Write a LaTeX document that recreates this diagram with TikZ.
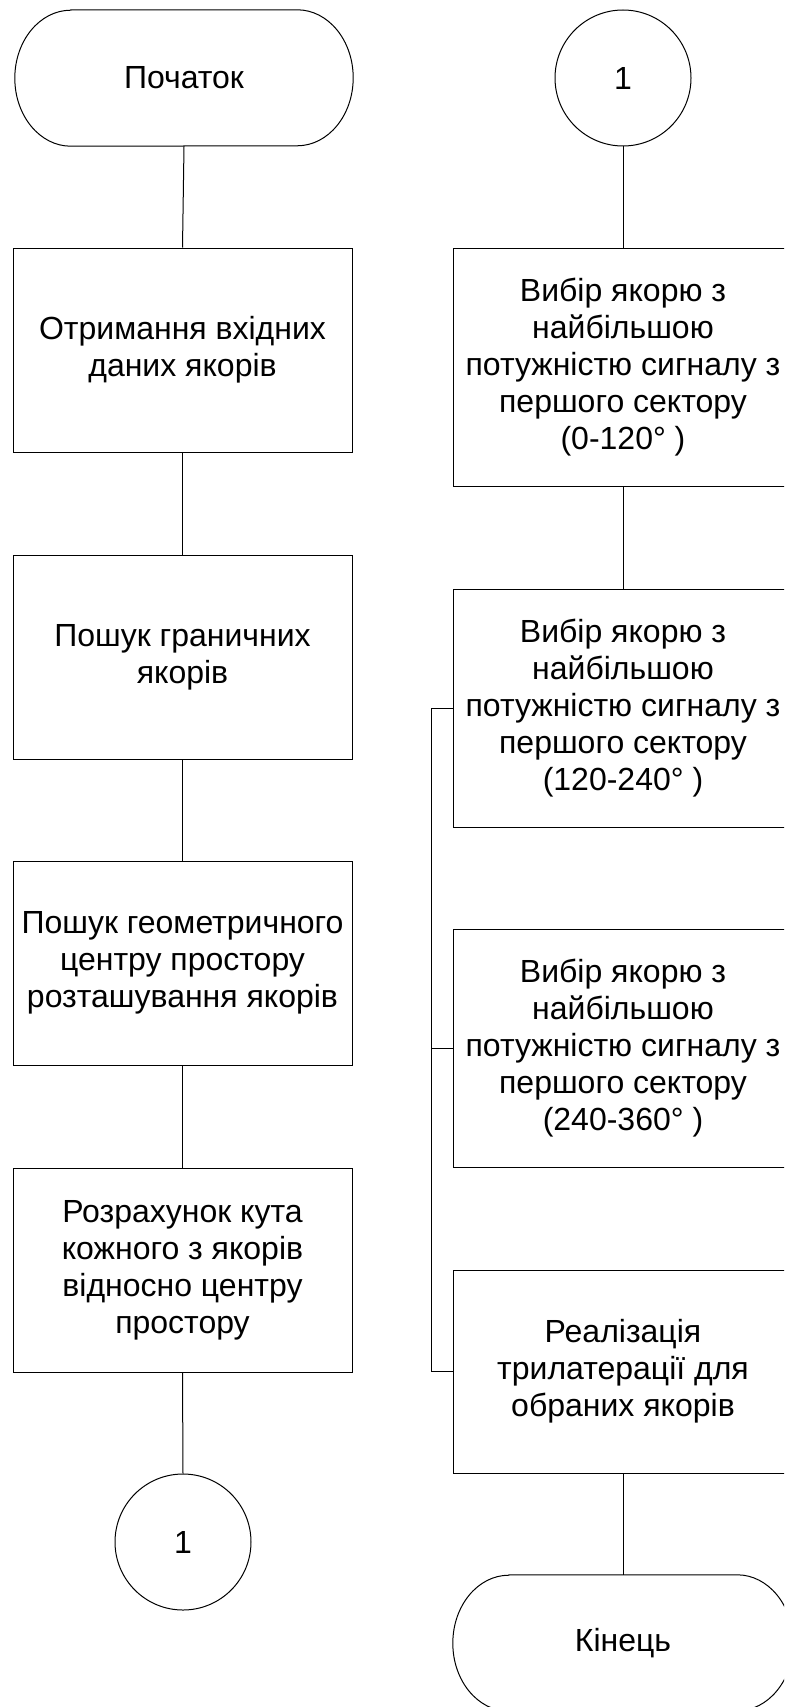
\documentclass[tikz,border=0pt]{standalone}
\usepackage{fontspec}
\setmainfont{Liberation Sans}
\begin{document}
\begin{tikzpicture}[x=1pt,y=-1pt,
  every node/.style={font=\fontsize{32}{37}\selectfont, align=center, inner sep=0pt},
  lbox/.style={draw, line width=1pt, rectangle, minimum width=339pt, minimum height=204pt},
  rbox/.style={draw, line width=1pt, rectangle, minimum width=340pt, minimum height=238pt},
  conn/.style={draw, line width=1pt, circle, minimum size=136pt},
  termbase/.style={rectangle, minimum height=136pt},
  ln/.style={line width=1pt}]
\useasboundingbox (0,0) rectangle (784,1707);
\clip (0,0) rectangle (784,1707);
\fill[white] (0,0) rectangle (784,1707);

% left column
\node[termbase, minimum width=338pt] (s) at (184,78) {Початок};
\node[lbox] (b1) at (182.5,350) {Отримання вхідних\\даних якорів};
\node[lbox] (b2) at (182.5,657) {Пошук граничних\\якорів};
\node[lbox] (b3) at (182.5,963) {Пошук геометричного\\центру простору\\розташування якорів};
\node[lbox] (b4) at (182.5,1270) {Розрахунок кута\\кожного з якорів\\відносно центру\\простору};
\node[conn] (c1) at (183,1542) {1};

% right column
\node[conn] (c2) at (623,78) {1};
\node[rbox] (r1) at (623,367) {Вибір якорю з\\найбільшою\\потужністю сигналу з\\першого сектору\\(0-120° )};
\node[rbox] (r2) at (623,708) {Вибір якорю з\\найбільшою\\потужністю сигналу з\\першого сектору\\(120-240° )};
\node[rbox] (r3) at (623,1048) {Вибір якорю з\\найбільшою\\потужністю сигналу з\\першого сектору\\(240-360° )};
\node[rbox, minimum height=203pt] (r4) at (623,1371.5) {Реалізація\\трилатерації для\\обраних якорів};
\node[termbase, minimum width=340pt] (e) at (623,1643) {Кінець};

% terminal outlines
\foreach \t in {s,e}{
  \draw[ln] ([xshift=56pt]\t.north west) -- ([xshift=-56pt]\t.north east)
    arc[start angle=90, end angle=-90, x radius=56pt, y radius=68pt]
    -- ([xshift=56pt]\t.south west)
    arc[start angle=270, end angle=90, x radius=56pt, y radius=68pt] -- cycle;
}

% connectors
\draw[ln] (s.south) -- (b1.north);
\draw[ln] (b1.south) -- (b2.north);
\draw[ln] (b2.south) -- (b3.north);
\draw[ln] (b3.south) -- (b4.north);
\draw[ln] (b4.south) -- (c1.north);

\draw[ln] (c2.south) -- (r1.north);
\draw[ln] (r1.south) -- (r2.north);
\coordinate (bt) at (431,708);
\coordinate (bm) at (431,1048);
\coordinate (bb) at (431,1371.5);
\draw[ln] (r2.west) -- (bt) -- (bb) -- (r4.west);
\draw[ln] (r3.west) -- (bm);
\draw[ln] (r4.south) -- (e.north);
\end{tikzpicture}
\end{document}
